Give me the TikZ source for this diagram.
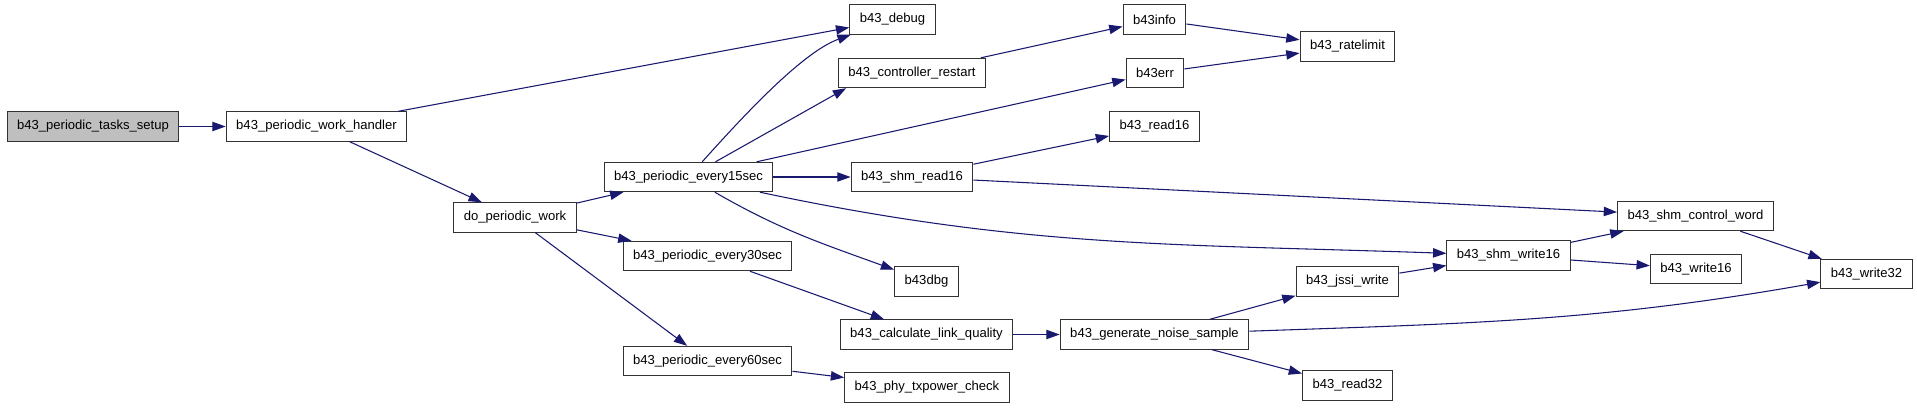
\documentclass[tikz,border=0pt]{standalone}
\usepackage{fontspec}
\setmainfont{Liberation Sans}
\usepackage{xcolor}
\usetikzlibrary{arrows.meta}
\definecolor{cgEdge}{HTML}{191970}
\definecolor{cgRoot}{HTML}{BFBFBF}
\definecolor{cgLine}{HTML}{333333}

\begin{document}
\begin{tikzpicture}[x=0.75pt,y=0.75pt,
  fn/.style={draw=cgLine,fill=white,line width=0.8pt,inner xsep=7.5pt,inner ysep=0pt,minimum height=22pt,font=\fontsize{9.8}{12}\selectfont},
  root/.style={fn,fill=cgRoot},
  call/.style={-{Triangle[length=10pt,width=7pt]},cgEdge,line width=0.8pt}]
  \useasboundingbox (0,0) rectangle (1917,-408);
  \node[root] (setup) at (93,-126.5) {b43\_periodic\_tasks\_setup};
  \node[fn] (handler) at (316.5,-126.5) {b43\_periodic\_work\_handler};
  \node[fn] (dowork) at (515,-217.5) {do\_periodic\_work};
  \node[fn] (e15) at (688.5,-177) {b43\_periodic\_every15sec};
  \node[fn] (e30) at (707.5,-256) {b43\_periodic\_every30sec};
  \node[fn] (e60) at (707.5,-361) {b43\_periodic\_every60sec};
  \node[fn] (debug) at (892.5,-19.5) {b43\_debug};
  \node[fn] (restart) at (912,-73) {b43\_controller\_restart};
  \node[fn] (shmrd) at (912,-177) {b43\_shm\_read16};
  \node[fn] (dbg) at (926.5,-281.5) {b43dbg};
  \node[fn] (linkq) at (926.5,-334.5) {b43\_calculate\_link\_quality};
  \node[fn] (txpwr) at (927,-387.5) {b43\_phy\_txpower\_check};
  \node[fn] (info) at (1154.5,-19.5) {b43info};
  \node[fn] (err) at (1155,-73) {b43err};
  \node[fn] (rd16) at (1154.5,-126.5) {b43\_read16};
  \node[fn] (noise) at (1154.5,-334.5) {b43\_generate\_noise\_sample};
  \node[fn] (ratelimit) at (1347.5,-46.5) {b43\_ratelimit};
  \node[fn] (jssi) at (1347.5,-281.5) {b43\_jssi\_write};
  \node[fn] (rd32) at (1347.5,-385.5) {b43\_read32};
  \node[fn] (shmwr) at (1508.5,-255.5) {b43\_shm\_write16};
  \node[fn] (ctlword) at (1695.5,-216) {b43\_shm\_control\_word};
  \node[fn] (wr16) at (1696,-269) {b43\_write16};
  \node[fn] (wr32) at (1866.5,-274) {b43\_write32};
  \draw[call] (setup) -- (handler);
  \draw[call] (handler) -- (debug);
  \draw[call] (handler) -- (dowork);
  \draw[call] (dowork) -- (e15);
  \draw[call] (dowork) -- (e30);
  \draw[call] (dowork) -- (e60);
  \draw[call] (e15) to[out=48,in=200,looseness=0.7] (debug);
  \draw[call] (e15) -- (restart.193);
  \draw[call] (e15) -- (err);
  \draw[call] (e15) -- (shmrd);
  \draw[call] (e15) to[out=-12,in=178] (shmwr);
  \draw[call] (e15) to[out=-30,in=160] (dbg);
  \draw[call] (restart) -- (info);
  \draw[call] (info) -- (ratelimit);
  \draw[call] (err) -- (ratelimit);
  \draw[call] (shmrd) -- (rd16);
  \draw[call] (shmrd) -- (ctlword);
  \draw[call] (shmwr) -- (ctlword);
  \draw[call] (shmwr) -- (wr16);
  \draw[call] (ctlword) -- (wr32);
  \draw[call] (e30) -- (linkq);
  \draw[call] (e60) -- (txpwr);
  \draw[call] (linkq) -- (noise);
  \draw[call] (noise) -- (jssi);
  \draw[call] (noise) to[out=2,in=190] (wr32);
  \draw[call] (noise) -- (rd32);
  \draw[call] (jssi) -- (shmwr);
\end{tikzpicture}
\end{document}
